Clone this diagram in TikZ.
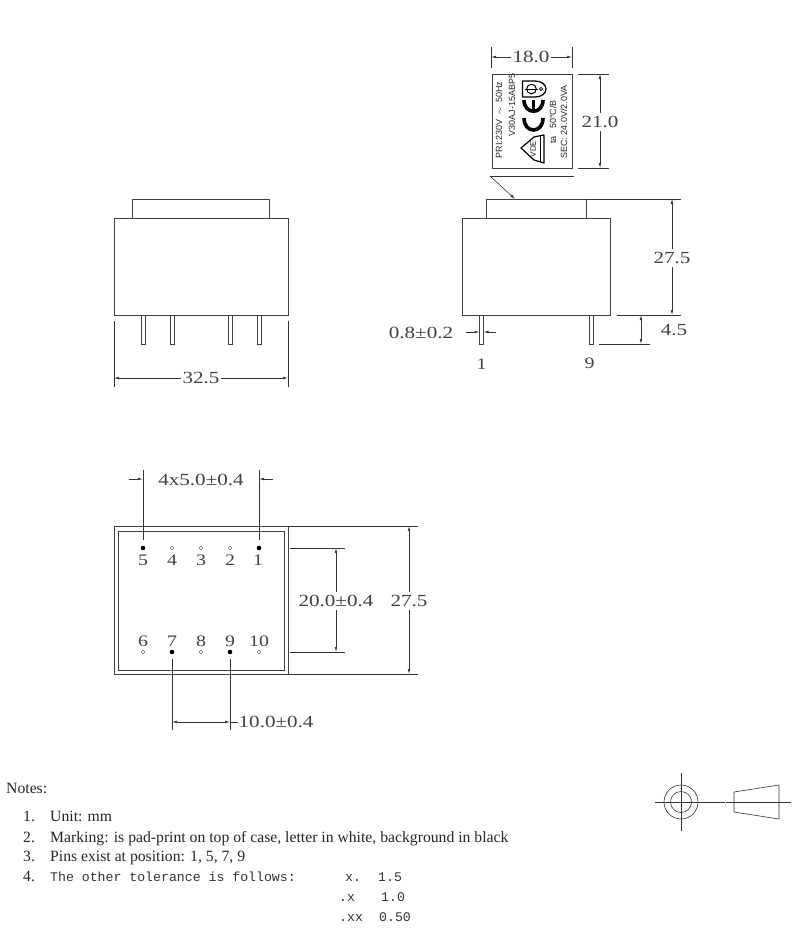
\documentclass[tikz,border=0pt]{standalone}
\usepackage{fontspec}
\setmainfont{Liberation Serif}
\newfontfamily\dimfont[FakeStretch=1.24]{Liberation Serif}
\newfontfamily\labfont{Liberation Sans}
\newfontfamily\monofont{Liberation Mono}
\usetikzlibrary{arrows.meta}
\tikzset{
  gl/.style={draw=black!75,line width=0.8pt},
  dl/.style={draw=black!80,line width=0.6pt},
  dimarr/.style={dl,{Latex[length=5pt,width=2.6pt]}-{Latex[length=5pt,width=2.6pt]}},
  onearr/.style={dl,-{Latex[length=5pt,width=2.6pt]}},
  dimtxt/.style={font=\dimfont\fontsize{17}{17}\selectfont,text=black!75,inner sep=0.5pt},
  pintxt/.style={font=\dimfont\fontsize{16}{16}\selectfont,text=black!75,inner sep=0pt},
  gapped/.style={dimtxt,fill=white,inner xsep=2pt,inner ysep=3pt},
  lab/.style={font=\labfont\fontsize{9}{9}\selectfont,rotate=90,text=black!85,inner sep=0pt},
  notetxt/.style={font=\fontsize{15.7}{15.7}\selectfont,anchor=base west,inner sep=0pt,text=black!85},
  notemono/.style={font=\monofont\fontsize{13.2}{13.2}\selectfont,anchor=base west,inner sep=0pt,text=black!80},
  pinon/.style={circle,fill=black,inner sep=0pt,minimum size=4.6pt},
  pinoff/.style={circle,draw=black!70,line width=0.4pt,inner sep=0pt,minimum size=3.6pt},
  markthick/.style={draw=black,line width=3.6pt},
}
\begin{document}
\begin{tikzpicture}[x=1pt,y=-1pt]
\useasboundingbox (0,0) rectangle (801,932);
% --- left view
\draw[gl] (114,218) rectangle (288,315);
\draw[gl] (132,218) -- (132,199) -- (269,199) -- (269,218);
\foreach \a/\b in {141/145,170/174,228/232,257/261}
  \draw[gl,line width=0.7pt] (\a,315) -- (\a,344) -- (\b,344) -- (\b,315);
\coordinate (la) at (114,378); \coordinate (lb) at (288,378);
\draw[dl] (114,321) -- (114,387);
\draw[dl] (288,321) -- (288,387);
\draw[dimarr] (la) -- (lb);
\node[gapped] (d325) at (201,378) {32.5};
% --- right view
\draw[gl] (462,218) rectangle (610,315);
\draw[gl] (486,218) -- (486,199) -- (586,199) -- (586,218);
\draw[dl] (586,199) -- (681,199);
\draw[dl] (617,315) -- (681,315);
\draw[dl] (599,344) -- (650,344);
\draw[dimarr] (672,199) -- (672,315);
\node[gapped] (d275a) at (672,258) {27.5};
\draw[dimarr] (641,315) -- (641,344);
\node[dimtxt] (d45) at (674,330) {4.5};
\draw[gl,line width=0.7pt] (479.5,315) -- (479.5,344) -- (483.5,344) -- (483.5,315);
\draw[gl,line width=0.7pt] (589,315) -- (589,344) -- (593,344) -- (593,315);
\draw[onearr] (466,332) -- (479.5,332);
\draw[onearr] (496,332) -- (483.5,332);
\node[dimtxt] (d08) at (421,333) {0.8±0.2};
\node[pintxt] (p1) at (481.5,364) {1};
\node[pintxt] (p9) at (589.5,363) {9};
% --- label
\draw[gl] (492,74) rectangle (572,168);
\draw[dl] (491,47) -- (491,68);
\draw[dl] (572,47) -- (572,68);
\draw[dimarr] (491,57) -- (572,57);
\node[gapped] (d18) at (531,57) {18.0};
\draw[dl] (578,74) -- (609,74);
\draw[dl] (578,168) -- (609,168);
\draw[dimarr] (600,74) -- (600,168);
\node[gapped] (d21) at (600,122) {21.0};
\draw[dl] (490,176) -- (574,176);
\draw[onearr] (490,176) -- (515,199);
\node[lab] (l1) at (499,120) {PRI:230V \ $\sim$ \ 50Hz};
\node[lab] (l2) at (512,105) {V30AJ-15ABP5};
\node[lab] (l3) at (553,122) {ta \ \ 50°C/B};
\node[lab] (l4) at (564,122) {SEC: 24.0V/2.0VA};
% marks
\draw[black,line width=1.3pt,line join=round] (522.5,81) -- (535,81) .. controls (542,81) and (546,85) .. (546,89) .. controls (546,93) and (542,97) .. (535,97) -- (522.5,97) -- cycle;
\draw[black,line width=1pt] (531.5,89) circle (4.8);
\draw[black,line width=1pt] (525,89) -- (538,89);
\draw[black,line width=0.8pt] (541,89) circle (1.6);
\draw[markthick] (524,100) .. controls (524,115) and (543,115) .. (543,100);
\draw[black,line width=2.2pt] (533.5,100) -- (533.5,111);
\draw[markthick] (524,118) .. controls (524,134) and (543,134) .. (543,118);
\draw[black,line width=1.2pt,line join=round] (521,148) -- (534,137) -- (544,135) -- (544,163) -- (534,160) -- cycle;
\draw[black,line width=0.9pt] (540,136) -- (540,162);
\node[lab,font=\labfont\fontsize{8}{8}\selectfont] (vde) at (533,149) {VDE};
% --- bottom view
\draw[gl] (114,526) rectangle (288,674);
\draw[gl] (118,531) rectangle (284,670);
\draw[dl] (288,526) -- (418,526);
\draw[dl] (288,674) -- (418,674);
\draw[dimarr] (409,526) -- (409,674);
\node[gapped] (d275b) at (409,601) {27.5};
\draw[dl] (290,548) -- (345,548);
\draw[dl] (290,652) -- (345,652);
\draw[dimarr] (336,548) -- (336,652);
\node[gapped] (d20) at (336,601) {20.0±0.4};
\node[pinon] (n5) at (143,548) {};
\node[pinoff] (n4) at (172,548) {};
\node[pinoff] (n3) at (201,548) {};
\node[pinoff] (n2) at (230,548) {};
\node[pinon] (n1) at (259,548) {};
\node[pinoff] (n6) at (143,652) {};
\node[pinon] (n7) at (172,652) {};
\node[pinoff] (n8) at (201,652) {};
\node[pinon] (n9) at (230,652) {};
\node[pinoff] (n10) at (259,652) {};
\foreach \n/\x in {5/143,4/172,3/201,2/230,1/258}
  \node[pintxt] (t\n) at (\x,560) {\n};
\foreach \n/\x in {6/143,7/172,8/201,9/230,10/259}
  \node[pintxt] (t\n) at (\x,641) {\n};
\coordinate (e5) at (143,470); \coordinate (e1) at (259,470);
\coordinate (e7) at (172,730); \coordinate (e9) at (230,730);
\draw[dl] (e5) -- (143,540);
\draw[dl] (e1) -- (259,540);
\draw[dl] (172,659) -- (e7);
\draw[dl] (230,659) -- (e9);
\draw[onearr] (129,479) -- (143,479);
\draw[onearr] (273,479) -- (259,479);
\node[dimtxt] (d4x) at (201,480) {4x5.0±0.4};
\draw[dimarr] (172,722) -- (230,722);
\draw[dl] (230,722) -- (238,722);
\node[dimtxt,anchor=west] (d10) at (238,722) {10.0±0.4};
% --- projection symbol
\draw[dl] (681,802) circle (17);
\draw[dl] (681,802) circle (10.5);
\draw[dl] (681,773) -- (681,831);
\draw[dl] (655,802) -- (725,802);
\draw[dl] (726,802) -- (791,802);
\draw[dl] (734,792) -- (779,785) -- (779,819) -- (734,812) -- cycle;
% --- notes
\node[notetxt] (n0) at (6,793) {Notes:};
\node[notetxt] (a1) at (23,821) {1.};
\node[notetxt] (b1) at (50,821) {Unit: mm};
\node[notetxt] (a2) at (23,842) {2.};
\node[notetxt] (b2) at (50,842) {Marking: is pad-print on top of case, letter in white, background in black};
\node[notetxt] (a3) at (23,861) {3.};
\node[notetxt] (b3) at (50,861) {Pins exist at position: 1, 5, 7, 9};
\node[notetxt] (a4) at (23,881) {4.};
\node[notemono] (b4) at (50,881) {The other tolerance is follows:};
\node[notemono] (x1) at (345,881) {x.};
\node[notemono] (x2) at (378,881) {1.5};
\node[notemono] (y1) at (339,901) {.x};
\node[notemono] (y2) at (381,901) {1.0};
\node[notemono] (z1) at (339,921) {.xx};
\node[notemono] (z2) at (379,921) {0.50};
\end{tikzpicture}
\end{document}
